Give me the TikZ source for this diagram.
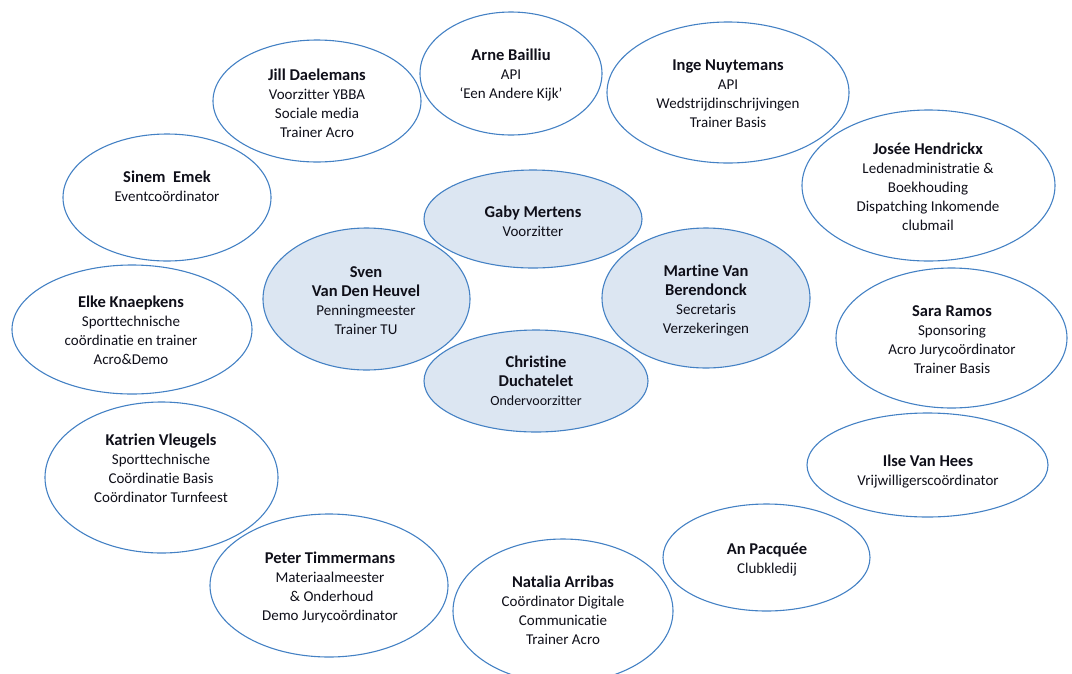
\documentclass[tikz,border=0pt]{standalone}
\usepackage{fontspec}
\setmainfont{Carlito}[Ligatures=NoCommon]
\usetikzlibrary{shapes.geometric}
\definecolor{edgeblue}{RGB}{68,129,196}
\definecolor{innerfill}{RGB}{220,230,242}
\definecolor{txt}{RGB}{15,15,25}
\newcommand\pname[1]{{\bfseries\fontsize{16.5}{19}\selectfont\strut #1}}
\newcommand\prole[1]{{\fontsize{15}{19}\selectfont\strut #1}}
\newcommand\psmall[1]{{\fontsize{14}{19}\selectfont\strut #1}}
\begin{document}
\begin{tikzpicture}[x=1pt,y=-1pt,
  outerell/.style={ellipse, draw=edgeblue, line width=1.1pt, inner sep=0pt},
  innerell/.style={outerell, fill=innerfill},
  lbl/.style={align=center, font=\fontsize{15}{19}\selectfont, inner sep=0pt, text=txt}]
\useasboundingbox (0,0) rectangle (1072,673);

% outer ring
\node[outerell, minimum width=208pt, minimum height=122pt] (jill) at (317,101) {};
\node[outerell, minimum width=182pt, minimum height=123pt] (arne) at (511,73.5) {};
\node[outerell, minimum width=242pt, minimum height=141pt] (inge) at (728,92.5) {};
\node[outerell, minimum width=253pt, minimum height=151pt] (josee) at (928.5,185.5) {};
\node[outerell, minimum width=208pt, minimum height=127pt] (sinem) at (167,197.5) {};
\node[outerell, minimum width=240pt, minimum height=129pt] (elke) at (132,329.5) {};
\node[outerell, minimum width=231pt, minimum height=140pt] (sara) at (951.5,338) {};
\node[outerell, minimum width=241pt, minimum height=104pt] (ilse) at (927.5,465) {};
\node[outerell, minimum width=233pt, minimum height=151pt] (katrien) at (161.5,477.5) {};
\node[outerell, minimum width=238pt, minimum height=143pt] (peter) at (329,585.5) {};
\node[outerell, minimum width=207pt, minimum height=107pt] (an) at (766.5,557.5) {};
\node[outerell, minimum width=220pt, minimum height=144pt] (natalia) at (563,611) {};

% inner group
\node[innerell, minimum width=218pt, minimum height=98pt] (gaby) at (533,219) {};
\node[innerell, minimum width=207pt, minimum height=142pt] (sven) at (366.5,299) {};
\node[innerell, minimum width=208pt, minimum height=140pt] (martine) at (706,298) {};
\node[innerell, minimum width=224pt, minimum height=102pt] (christine) at (536,381) {};

% labels
\node[lbl] (jillT) at (317,105) {\pname{Jill Daelemans}\\\prole{Voorzitter YBBA}\\\prole{Sociale media}\\\prole{Trainer Acro}};
\node[lbl] (arneT) at (511,76) {\pname{Arne Bailliu}\\\prole{API}\\\prole{‘Een Andere Kijk’}};
\node[lbl] (ingeT) at (728,95) {\pname{Inge Nuytemans}\\\prole{API}\\\prole{Wedstrijdinschrijvingen}\\\prole{Trainer Basis}};
\node[lbl] (joseeT) at (928,188.5) {\pname{Josée Hendrickx}\\\prole{Ledenadministratie \&}\\\prole{Boekhouding}\\\prole{Dispatching Inkomende}\\\prole{clubmail}};
\node[lbl] (sinemT) at (167,188) {\pname{Sinem\ \ Emek}\\\prole{Eventcoördinator}};
\node[lbl] (elkeT) at (131,332) {\pname{Elke Knaepkens}\\\prole{Sporttechnische}\\\prole{coördinatie en trainer}\\\prole{Acro\&Demo}};
\node[lbl] (saraT) at (952,341) {\pname{Sara Ramos}\\\prole{Sponsoring}\\\prole{Acro Jurycoördinator}\\\prole{Trainer Basis}};
\node[lbl] (ilseT) at (928,472) {\pname{Ilse Van Hees}\\\prole{Vrijwilligerscoördinator}};
\node[lbl] (katrienT) at (161,470) {\pname{Katrien Vleugels}\\\prole{Sporttechnische}\\\prole{Coördinatie Basis}\\\prole{Coördinator Turnfeest}};
\node[lbl] (peterT) at (330,588) {\pname{Peter Timmermans}\\\prole{Materiaalmeester}\\\prole{\ \& Onderhoud}\\\prole{Demo Jurycoördinator}};
\node[lbl] (anT) at (767,560) {\pname{An Pacquée}\\\prole{Clubkledij}};
\node[lbl] (nataliaT) at (563,612) {\pname{Natalia Arribas}\\\prole{Coördinator Digitale}\\\prole{Communicatie}\\\prole{Trainer Acro}};
\node[lbl] (gabyT) at (533,223) {\pname{Gaby Mertens}\\\prole{Voorzitter}};
\node[lbl] (svenT) at (366,302.5) {\pname{Sven}\\\pname{Van Den Heuvel}\\\prole{Penningmeester}\\\prole{Trainer TU}};
\node[lbl] (martineT) at (706,301) {\pname{Martine Van}\\\pname{Berendonck}\\\prole{Secretaris}\\\prole{Verzekeringen}};
\node[lbl] (christineT) at (536,383) {\pname{Christine}\\\pname{Duchatelet}\\\psmall{Ondervoorzitter}};
\end{tikzpicture}
\end{document}
